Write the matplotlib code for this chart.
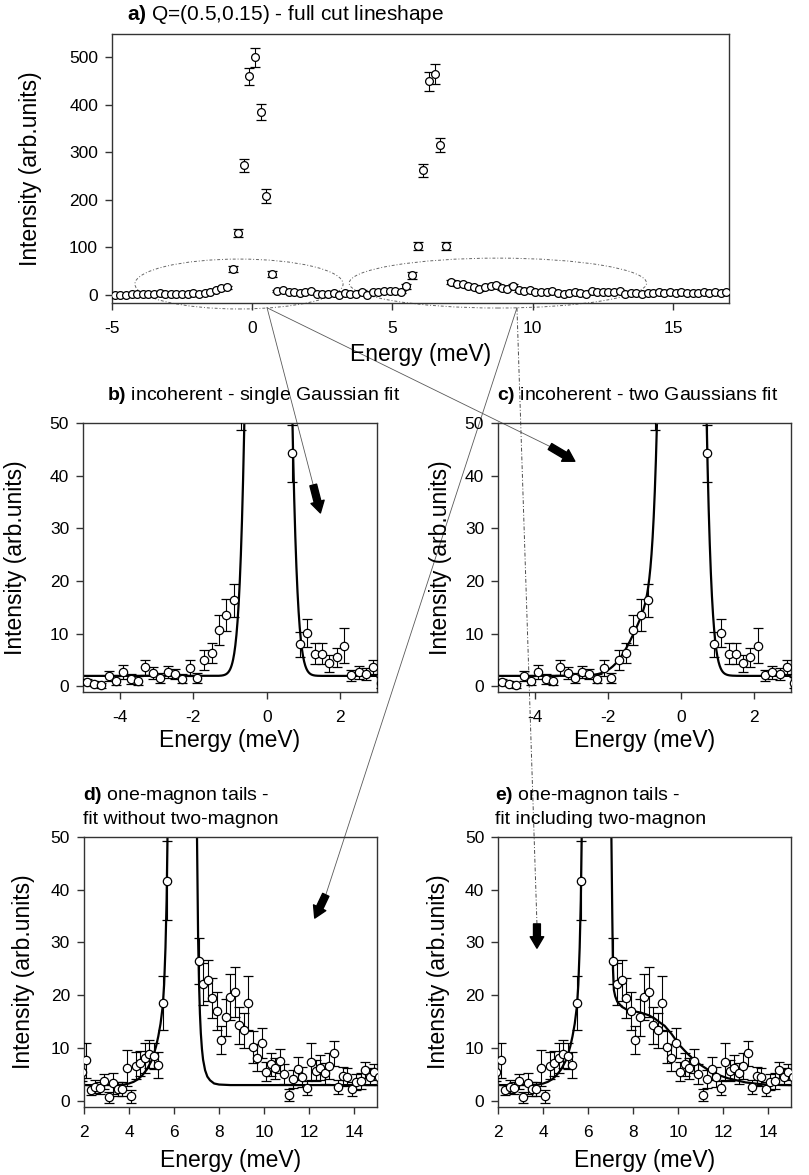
import numpy as np
import matplotlib
matplotlib.use("Agg")
import matplotlib.pyplot as plt
from matplotlib.patches import Ellipse

plt.rcParams['font.family'] = ['Liberation Sans', 'DejaVu Sans']
plt.rcParams['mathtext.fontset'] = 'custom'
plt.rcParams['mathtext.rm'] = 'Liberation Sans'
plt.rcParams['mathtext.bf'] = 'Liberation Sans:bold'
plt.rcParams['axes.unicode_minus'] = False

# Energy bins (meV) of the cut
energy = [-4.9, -4.7, -4.5, -4.3, -4.1, -3.9, -3.7, -3.5, -3.3, -3.1,
          -2.9, -2.7, -2.5, -2.3, -2.1, -1.9, -1.7, -1.5, -1.3, -1.1,
          -0.9, -0.7, -0.5, -0.3, -0.1, 0.1, 0.3, 0.5, 0.7, 0.9,
          1.1, 1.3, 1.5, 1.7, 1.9, 2.1, 2.3, 2.5, 2.7, 2.9,
          3.1, 3.3, 3.5, 3.7, 3.9, 4.1, 4.3, 4.5, 4.7, 4.9,
          5.1, 5.3, 5.5, 5.7, 5.9, 6.1, 6.3, 6.5, 6.7, 6.9,
          7.1, 7.3, 7.5, 7.7, 7.9, 8.1, 8.3, 8.5, 8.7, 8.9,
          9.1, 9.3, 9.5, 9.7, 9.9, 10.1, 10.3, 10.5, 10.7, 10.9,
          11.1, 11.3, 11.5, 11.7, 11.9, 12.1, 12.3, 12.5, 12.7, 12.9,
          13.1, 13.3, 13.5, 13.7, 13.9, 14.1, 14.3, 14.5, 14.7, 14.9,
          15.1, 15.3, 15.5, 15.7, 15.9, 16.1, 16.3, 16.5, 16.7, 16.9]

intensity = [0.8, 0.5, 0.2, 2.0, 1.1, 2.7, 1.4, 1.1, 3.6, 2.5,
             1.6, 2.7, 2.4, 1.5, 3.5, 1.6, 5.0, 6.3, 10.7, 13.6,
             16.3, 55, 130, 273, 460, 500, 385, 208, 44.2, 8.0,
             10.1, 6.2, 6.2, 4.4, 5.5, 7.7, 2.1, 2.7, 2.4, 3.7,
             0.7, 3.3, 2.2, 2.2, 6.2, 0.9, 6.7, 7.1, 8.1, 8.9,
             8.5, 6.8, 18.6, 41.7, 103, 262, 450, 465, 316, 103,
             26.5, 22.1, 22.8, 19.4, 17.0, 11.5, 15.8, 19.7, 20.6, 14.3,
             13.4, 18.5, 10.2, 8.2, 11.0, 5.5, 6.9, 6.2, 7.6, 5.1,
             1.1, 4.2, 6.1, 4.6, 2.5, 7.4, 5.7, 6.3, 5.2, 6.6,
             9.0, 2.6, 4.8, 4.5, 2.3, 3.5, 3.7, 5.9, 4.6, 5.4,
             4.5, 5.5, 4.0, 5.0, 3.5, 5.8, 4.2, 5.2, 4.8, 6.0]

error = [0.6, 0.5, 0.4, 1.0, 0.8, 1.3, 0.9, 0.8, 1.4, 1.1,
         0.9, 1.1, 1.0, 0.9, 1.5, 1.0, 1.9, 1.9, 2.8, 3.0,
         3.2, 6.4, 9, 14, 18, 20, 17, 14, 5.4, 2.4,
         2.7, 2.0, 2.0, 1.6, 1.8, 3.3, 1.0, 1.2, 1.1, 1.4,
         1.0, 1.9, 1.3, 1.3, 3.4, 1.2, 2.6, 2.4, 2.9, 2.6,
         2.5, 2.5, 5.1, 7.5, 8, 13, 20, 22, 15, 8,
         4.3, 4.0, 3.9, 3.8, 3.6, 2.7, 3.5, 4.3, 4.8, 3.5,
         3.3, 5.1, 3.0, 2.6, 2.8, 1.8, 2.2, 2.0, 2.3, 1.9,
         1.2, 1.7, 2.2, 1.9, 1.3, 3.5, 2.0, 2.3, 2.0, 2.4,
         2.4, 1.3, 1.7, 1.7, 1.3, 1.5, 1.5, 1.5, 1.6, 1.5,
         1.5, 1.6, 1.4, 1.5, 1.3, 1.6, 1.4, 1.5, 1.5, 1.6]

# Gaussian fits of the incoherent line (panels b, c)
bg_inc = 2.0
narrow_amp, narrow_cen, narrow_sig = 520.0, 0.045, 0.30
broad_amp, broad_cen, broad_sig = 14.0, -0.67, 0.59

# one-magnon fit curves (panels d, e)
fit_left_x = [2.0, 3.5, 3.8, 4.0, 4.2, 4.4, 4.6, 4.8, 5.0, 5.1, 5.2, 5.3, 5.4,
              5.5, 5.56, 5.62, 5.67, 5.71, 5.73]
fit_left_y = [3.0, 3.0, 3.1, 3.3, 3.6, 4.1, 4.9, 6.0, 7.6, 8.8, 10.3, 12.2, 14.6,
              18.0, 22.0, 29.0, 38.0, 50.0, 58.0]
fit_d_right_x = [7.0, 7.02, 7.07, 7.11, 7.15, 7.19, 7.24, 7.29, 7.38, 7.48,
                 7.6, 7.78, 8.0, 8.5, 15.0]
fit_d_right_y = [58.0, 50.0, 30.5, 22.3, 16.5, 12.8, 9.8, 7.8, 5.8, 4.6,
                 3.9, 3.3, 3.1, 3.0, 3.0]
fit_e_right_x = [7.0, 7.03, 7.07, 7.1, 7.14, 7.2, 7.29, 7.5, 7.75, 8.0, 8.35,
                 8.7, 8.95, 9.2, 9.4, 9.7, 10.05, 10.4, 10.7, 11.0, 11.4,
                 11.8, 12.2, 12.6, 13.0, 13.4, 14.0, 15.0]
fit_e_right_y = [58.0, 50.0, 35.0, 25.0, 21.0, 19.8, 18.8, 17.8, 17.2, 17.0, 16.7,
                 16.2, 15.6, 14.8, 14.2, 12.7, 10.6, 9.0, 7.8, 6.8, 5.7,
                 4.9, 4.3, 3.9, 3.5, 3.3, 3.05, 3.0]


def gauss(x, a, c, s):
    return a * np.exp(-(x - c) ** 2 / (2 * s ** 2))


def style(ax, xlim, ylim, xticks, yticks, xlab_y, ylab_x):
    ax.set_xlim(xlim)
    ax.set_ylim(ylim)
    ax.set_xticks(xticks)
    ax.set_yticks(yticks)
    ax.tick_params(direction='out', length=5, width=1, labelsize=12.5, color='#333333')
    ax.tick_params(axis='x', pad=8)
    ax.tick_params(axis='y', pad=5)
    for s in ax.spines.values():
        s.set_linewidth(1.0)
        s.set_color('#333333')
    ax.set_xlabel('Energy (meV)', fontsize=16.5)
    ax.set_ylabel('Intensity (arb.units)', fontsize=16.5)
    ax.xaxis.set_label_coords(0.5, xlab_y)
    ax.yaxis.set_label_coords(ylab_x, 0.5)
    ax.patch.set_visible(False)


def points(ax, ms=6):
    ax.errorbar(energy, intensity, yerr=error, fmt='o', mfc='white', mec='black',
                mew=0.9, ms=ms, ecolor='black', elinewidth=0.8, capsize=3.5,
                capthick=0.8, zorder=3)


def arrow(ax, tail, tip):
    ax.annotate('', xy=tip, xytext=tail, annotation_clip=False,
                arrowprops=dict(arrowstyle='simple,head_length=0.55,head_width=0.65,tail_width=0.33',
                                fc='black', ec='black', shrinkA=0, shrinkB=0,
                                mutation_scale=15))


def link(start, ax_to, end, **kw):
    # line drawn in panel a, ending at a point given in another panel's data
    p = axa.transData.inverted().transform(ax_to.transData.transform(end))
    axa.plot([start[0], p[0]], [start[1], p[1]], clip_on=False, zorder=1, **kw)


fig = plt.figure(figsize=(8.09, 11.75), dpi=100)

axa = fig.add_axes([0.1384, 0.7421, 0.7627, 0.2289])
axb = fig.add_axes([0.1026, 0.4113, 0.3634, 0.2289])
axc = fig.add_axes([0.6156, 0.4113, 0.3618, 0.2289])
axd = fig.add_axes([0.1038, 0.0581, 0.3618, 0.2298])
axe = fig.add_axes([0.6159, 0.0581, 0.3614, 0.2298])

# a) full cut
points(axa, ms=5.6)
style(axa, (-5, 17), (-17, 549), [-5, 0, 5, 10, 15], [0, 100, 200, 300, 400, 500],
      -0.15, -0.113)
axa.text(0.024, 1.074, r'$\mathbf{a)}$ Q=(0.5,0.15) - full cut lineshape',
         transform=axa.transAxes, fontsize=15, va='center', ha='left')
ell_style = dict(fill=False, ec='0.4', lw=0.7, ls=(0, (3, 2, 1, 2)), clip_on=False)
axa.add_patch(Ellipse((-0.47, 23), 7.42, 105, **ell_style))
axa.add_patch(Ellipse((8.76, 25), 10.6, 105, **ell_style))

# b) single Gaussian
xg = np.linspace(-5, 3, 800)
axb.plot(xg, bg_inc + gauss(xg, narrow_amp, narrow_cen, narrow_sig), color='black', lw=1.6, zorder=2)
points(axb)
style(axb, (-5, 3), (-1, 50), [-4, -2, 0, 2], [0, 10, 20, 30, 40, 50], -0.137, -0.19)
axb.text(0.082, 1.103, r'$\mathbf{b)}$ incoherent - single Gaussian fit',
         transform=axb.transAxes, fontsize=14, va='center', ha='left')

# c) two Gaussians
axc.plot(xg, bg_inc + gauss(xg, narrow_amp, narrow_cen, narrow_sig)
         + gauss(xg, broad_amp, broad_cen, broad_sig), color='black', lw=1.6, zorder=2)
points(axc)
style(axc, (-5, 3), (-1, 50), [-4, -2, 0, 2], [0, 10, 20, 30, 40, 50], -0.137, -0.157)
axc.text(-0.003, 1.103, r'$\mathbf{c)}$ incoherent - two Gaussians fit',
         transform=axc.transAxes, fontsize=14, va='center', ha='left')

# d) one-magnon without two-magnon
axd.plot(fit_left_x + fit_d_right_x, fit_left_y + fit_d_right_y, color='black', lw=1.6, zorder=2)
points(axd)
style(axd, (2, 15), (-1.1, 50), [2, 4, 6, 8, 10, 12, 14], [0, 10, 20, 30, 40, 50], -0.155, -0.167)
axd.text(-0.003, 1.154, r'$\mathbf{d)}$ one-magnon tails -', transform=axd.transAxes,
         fontsize=14, va='center', ha='left')
axd.text(-0.003, 1.062, 'fit without two-magnon', transform=axd.transAxes,
         fontsize=14, va='center', ha='left')

# e) one-magnon including two-magnon
axe.plot(fit_left_x + fit_e_right_x, fit_left_y + fit_e_right_y, color='black', lw=1.6, zorder=2)
points(axe)
style(axe, (2, 15), (-1.1, 50), [2, 4, 6, 8, 10, 12, 14], [0, 10, 20, 30, 40, 50], -0.155, -0.165)
axe.text(-0.011, 1.154, r'$\mathbf{e)}$ one-magnon tails -', transform=axe.transAxes,
         fontsize=14, va='center', ha='left')
axe.text(-0.011, 1.062, 'fit including two-magnon', transform=axe.transAxes,
         fontsize=14, va='center', ha='left')

# connecting lines from the ellipses to the zoomed panels
thin = dict(color='0.35', lw=0.6)
link((0.53, -27), axb, (1.265, 38.2), **thin)
link((0.53, -27), axc, (-3.58, 45.5), **thin)
link((9.44, -27), axd, (12.74, 39.0), **thin)
link((9.44, -27), axe, (3.72, 33.5), color='0.3', lw=0.7, ls=(0, (4, 2, 1, 2)))

arrow(axb, (1.265, 38.2), (1.46, 32.9))
arrow(axc, (-3.58, 45.5), (-2.90, 42.7))
arrow(axd, (12.74, 39.0), (12.25, 34.6))
arrow(axe, (3.72, 33.5), (3.72, 28.9))

fig.savefig('out.png', dpi=100)
